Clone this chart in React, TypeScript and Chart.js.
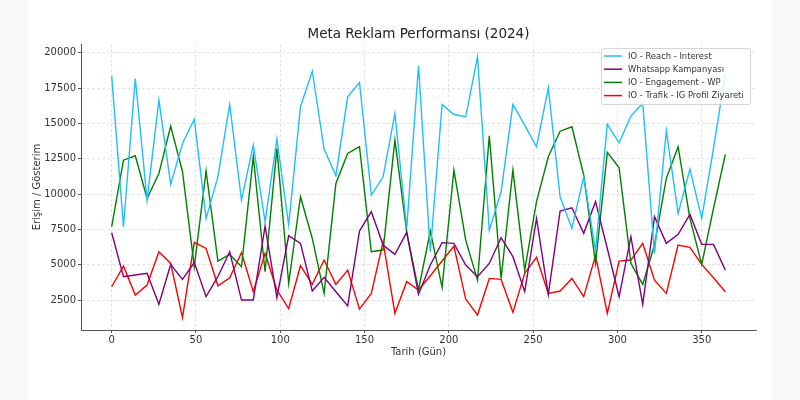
import React, { useEffect, useRef } from 'react';
import { Chart, registerables, Plugin } from 'chart.js';

Chart.register(...registerables);

// Days of the year (weekly samples)
const days = [
  0, 7, 14, 21, 28, 35, 42, 49, 56, 63, 70, 77, 84, 91, 98, 105, 112, 119, 126, 133,
  140, 147, 154, 161, 168, 175, 182, 189, 196, 203, 210, 217, 224, 231, 238, 245, 252,
  259, 266, 273, 280, 287, 294, 301, 308, 315, 322, 329, 336, 343, 350, 357, 364,
];

const reachInterest = [
  18350, 7690, 18180, 9570, 16650, 10680, 13580, 15300, 8280, 11220, 16340, 9570, 13460,
  8040, 13890, 7810, 16180, 18700, 13180, 11300, 16880, 17900, 9930, 11220, 15700, 7570,
  19080, 5920, 16340, 15630, 15470, 19710, 7450, 10160, 16340, 14880, 13350, 17520, 9810,
  7570, 11220, 6040, 14930, 13630, 15520, 16410, 5800, 14480, 8630, 11770, 8280, 13230,
  18530,
];

const whatsapp = [
  7260, 4150, 4270, 4390, 2200, 5020, 3960, 5150, 2740, 4150, 5920, 2500, 2500, 7730,
  2670, 7050, 6510, 3140, 4110, 3090, 2080, 7380, 8750, 6390, 5730, 7290, 2900, 4980,
  6560, 6510, 4980, 4150, 5090, 6910, 5570, 3090, 8280, 2900, 8800, 9030, 7220, 9460,
  6150, 2740, 6980, 2190, 8400, 6510, 7150, 8560, 6440, 6440, 4620,
];

const engagementWp = [
  7690, 12400, 12710, 9690, 11460, 14810, 11580, 4860, 11630, 5260, 5730, 4860, 12640,
  4500, 13230, 3680, 9810, 6860, 2970, 10750, 12880, 13350, 5920, 6040, 13820, 7300,
  3210, 7380, 3400, 11700, 6740, 3910, 14130, 4030, 11700, 4620, 9460, 12640, 14450,
  14760, 11340, 5090, 12950, 11860, 5090, 3610, 6390, 11110, 13350, 8280, 5020, 8980,
  12800,
];

const trafikIg = [
  3440, 4900, 2850, 3560, 5920, 5090, 1250, 6580, 6150, 3510, 4080, 5850, 3090, 5800,
  3210, 1900, 4930, 3610, 5330, 3610, 4620, 1860, 2970, 6620, 1560, 3800, 3210, 4220,
  5260, 6320, 2570, 1440, 4030, 3960, 1630, 4390, 5520, 2970, 3140, 4030, 2740, 5640,
  1560, 5260, 5330, 6510, 3910, 2970, 6390, 6230, 5020, 4080, 3090,
];

const seriesLabels = [
  'IO - Reach - Interest',
  'Whatsapp Kampanyası',
  'IO - Engagement - WP',
  'IO - Trafik - IG Profil Ziyareti',
];
const seriesColors = ['#1ebeff', '#800080', '#008000', '#ff0000'];

const xTicks = [0, 50, 100, 150, 200, 250, 300, 350];
const yTicks = [2500, 5000, 7500, 10000, 12500, 15000, 17500, 20000];

const chartTitle = 'Meta Reklam Performansı (2024)';
const xTitle = 'Tarih (Gün)';
const yTitle = 'Erişim / Gösterim';

const FONT = "'DejaVu Sans', sans-serif";

// background, titles and legend box drawn straight on the canvas
const overlayPlugin: Plugin<'line'> = {
  id: 'overlay',
  beforeDraw(chart) {
    const { ctx, width, height } = chart;
    ctx.save();
    ctx.fillStyle = '#f8f8f8';
    ctx.fillRect(0, 0, width, height);
    ctx.fillStyle = '#ffffff';
    ctx.fillRect(27, 0, width - 54, height);
    ctx.restore();
  },
  afterDatasetsDraw(chart) {
    const { ctx, chartArea } = chart;
    const boxW = 149;
    const boxH = 56;
    const bx = chartArea.right - boxW - 6;
    const by = chartArea.top + 4;
    ctx.save();
    ctx.beginPath();
    ctx.roundRect(bx + 0.5, by + 0.5, boxW, boxH, 2);
    ctx.fillStyle = 'rgba(255,255,255,0.8)';
    ctx.fill();
    ctx.strokeStyle = '#d6d6d6';
    ctx.lineWidth = 1;
    ctx.stroke();
    ctx.font = `8.4px ${FONT}`;
    ctx.textBaseline = 'middle';
    ctx.textAlign = 'left';
    chart.data.datasets.forEach((ds, i) => {
      const y = by + 8 + i * 13.2;
      ctx.beginPath();
      ctx.moveTo(bx + 3, y);
      ctx.lineTo(bx + 21, y);
      ctx.strokeStyle = ds.borderColor as string;
      ctx.lineWidth = 1.5;
      ctx.stroke();
      ctx.fillStyle = '#333333';
      ctx.fillText(ds.label as string, bx + 27, y + 0.5);
    });
    ctx.restore();
  },
  afterDraw(chart) {
    const { ctx, chartArea } = chart;
    const cx = (chartArea.left + chartArea.right) / 2;
    const cy = (chartArea.top + chartArea.bottom) / 2;
    ctx.save();
    ctx.fillStyle = '#222222';
    ctx.textAlign = 'center';
    ctx.textBaseline = 'middle';
    ctx.font = `13.5px ${FONT}`;
    ctx.fillText(chartTitle, cx, chartArea.top - 10);
    ctx.font = `10px ${FONT}`;
    ctx.fillStyle = '#333333';
    ctx.fillText(xTitle, cx, chartArea.bottom + 22);
    ctx.translate(37, cy);
    ctx.rotate(-Math.PI / 2);
    ctx.fillText(yTitle, 0, 0);
    ctx.restore();
  },
};

const seriesData = [reachInterest, whatsapp, engagementWp, trafikIg];

export default function App() {
  const canvasRef = useRef<HTMLCanvasElement>(null);

  useEffect(() => {
    if (!canvasRef.current) return;
    const chart = new Chart(canvasRef.current, {
      type: 'line',
      data: {
        datasets: seriesData.map((values, i) => ({
          label: seriesLabels[i],
          data: values.map((v, j) => ({ x: days[j], y: v })),
          borderColor: seriesColors[i],
          backgroundColor: seriesColors[i],
          borderWidth: 1.4,
          pointRadius: 0,
          tension: 0,
          fill: false,
        })),
      },
      options: {
        responsive: false,
        animation: false,
        layout: { padding: { left: 0, right: 44, top: 44, bottom: 0 } },
        plugins: {
          legend: { display: false },
          title: { display: false },
          tooltip: { enabled: false },
        },
        scales: {
          x: {
            type: 'linear',
            min: -18.2,
            max: 382.2,
            afterBuildTicks: (scale) => {
              scale.ticks = xTicks.map((v) => ({ value: v }));
            },
            afterFit: (scale) => {
              scale.height = 70;
            },
            grid: {
              color: 'rgba(190,190,190,0.55)',
              lineWidth: 0.8,
              tickColor: '#555555',
              tickLength: 3,
              tickWidth: 1,
              tickBorderDash: [],
            },
            border: { color: '#555555', width: 1, dash: [3, 2] },
            ticks: {
              color: '#333333',
              font: { family: FONT, size: 10 },
              padding: 1,
              maxRotation: 0,
              autoSkip: false,
              callback: (v) => String(v),
            },
          },
          y: {
            type: 'linear',
            min: 380,
            max: 20620,
            afterBuildTicks: (scale) => {
              scale.ticks = yTicks.map((v) => ({ value: v }));
            },
            afterFit: (scale) => {
              scale.width = 81;
            },
            grid: {
              color: 'rgba(190,190,190,0.55)',
              lineWidth: 0.8,
              tickColor: '#555555',
              tickLength: 3,
              tickWidth: 1,
              tickBorderDash: [],
            },
            border: { color: '#555555', width: 1, dash: [3, 2] },
            ticks: {
              color: '#333333',
              font: { family: FONT, size: 10 },
              padding: 2,
              autoSkip: false,
              callback: (v) => String(v),
            },
          },
        },
      },
      plugins: [overlayPlugin],
    });
    return () => chart.destroy();
  }, []);

  return (
    <div style={{ position: 'fixed', left: 0, top: 0, width: 800, height: 400 }}>
      <canvas ref={canvasRef} width={800} height={400} />
    </div>
  );
}
